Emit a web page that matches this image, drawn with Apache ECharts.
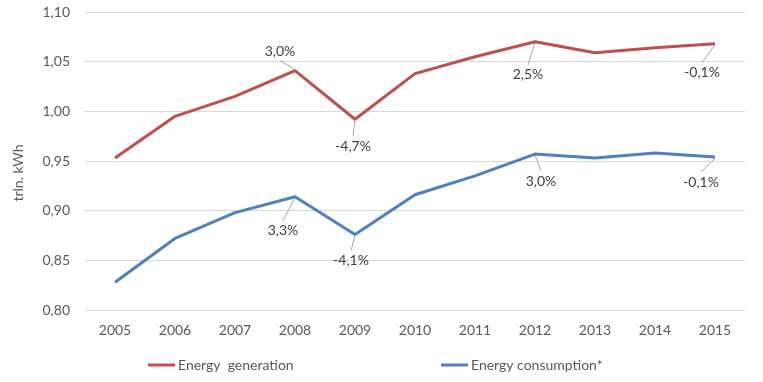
<!DOCTYPE html>
<html><head><meta charset="utf-8">
<script src="https://cdn.jsdelivr.net/npm/echarts@6/dist/echarts.min.js"></script>
<style>html,body{margin:0;padding:0;background:#fff}#c{width:763px;height:382px}</style>
</head><body><div id="c"></div>
<script>
const years = ['2005','2006','2007','2008','2009','2010','2011','2012','2013','2014','2015'];
const generation = [0.953,0.995,1.015,1.041,0.992,1.038,1.055,1.070,1.059,1.064,1.068];
const consumption = [0.828,0.872,0.898,0.914,0.876,0.916,0.935,0.957,0.953,0.958,0.954];
const genNotes = ['','','','3,0%','-4,7%','','','2,5%','','','-0,1%'];
const conNotes = ['','','','3,3%','-4,1%','','','3,0%','','','-0,1%'];
const yTicks = [0.80,0.85,0.90,0.95,1.00,1.05,1.10];

// label offsets (layout only)
const genOff = {3:[-15,-19],4:[-2,27],7:[-7,33],10:[-13,29]};
const conOff = {3:[-12,34],4:[-4,26],7:[6,27],10:[-14,25]};

const FONT = 'Lato, "Open Sans", sans-serif';
function mk(vals, notes){
  return vals.map((v,i)=> notes[i] ? {value:v, label:{show:true, formatter:notes[i]}} : v);
}
function layoutFor(off){
  return function(p){ const o = off[p.dataIndex] || [0,0]; return {dx:o[0], dy:o[1]}; };
}
const chart = echarts.init(document.getElementById('c'));
const lbl = {show:false,position:'inside',color:'#404040',fontSize:14,fontFamily:FONT};
chart.setOption({
  animation:false,
  grid:{left:85,right:18,top:12,bottom:72},
  legend:[
    {left:143,top:353,itemWidth:27,itemHeight:3,icon:'rect',itemGap:4,data:['Energy  generation'],
     textStyle:{color:'#595959',fontSize:14,fontFamily:FONT,padding:[0,0,0,-2]}},
    {left:436,top:353,itemWidth:27,itemHeight:3,icon:'rect',data:['Energy consumption*'],
     textStyle:{color:'#595959',fontSize:14,fontFamily:FONT,padding:[0,0,0,-2]}}
  ],
  xAxis:{type:'category',data:years,boundaryGap:true,
    axisLine:{show:false},axisTick:{show:false},
    axisLabel:{color:'#595959',fontSize:14,fontFamily:FONT,margin:13}},
  yAxis:{type:'value',min:0.80,max:1.10,interval:0.05,
    name:'trln. kWh',nameLocation:'middle',nameGap:60,nameRotate:90,
    nameTextStyle:{color:'#595959',fontSize:14,fontFamily:FONT,padding:[0,0,0,-24]},
    splitLine:{lineStyle:{color:'#d9d9d9'}},
    axisLabel:{color:'#595959',fontSize:14,fontFamily:FONT,margin:15,
      formatter:v=>v.toFixed(2).replace('.',',')}},
  series:[
    {name:'Energy  generation',type:'line',data:mk(generation,genNotes),
     color:'#C0504D',symbol:'circle',symbolSize:0,lineStyle:{width:3,color:'#C0504D'},
     label:lbl, labelLayout:layoutFor(genOff)},
    {name:'Energy consumption*',type:'line',data:mk(consumption,conNotes),
     color:'#4F81BD',symbol:'circle',symbolSize:0,lineStyle:{width:3,color:'#4F81BD'},
     label:lbl, labelLayout:layoutFor(conOff)}
  ]
});
// leader lines, derived from the library's own scale
const leaders = [];
[[generation,genNotes,genOff],[consumption,conNotes,conOff]].forEach(([vals,notes,off])=>{
  notes.forEach((n,i)=>{
    if(!n) return;
    const p = chart.convertToPixel({gridIndex:0},[i,vals[i]]);
    const o = off[i];
    const down = o[1] > 0;
    const ex = p[0]+o[0], ey = p[1]+o[1] + (down ? -10 : 9);
    leaders.push({type:'line',silent:true,z:1,
      shape:{x1:p[0],y1:p[1]+(down?1:-1),x2:ex,y2:ey},
      style:{stroke:'#a6a6a6',lineWidth:1}});
  });
});
chart.setOption({graphic:leaders});
</script></body></html>
